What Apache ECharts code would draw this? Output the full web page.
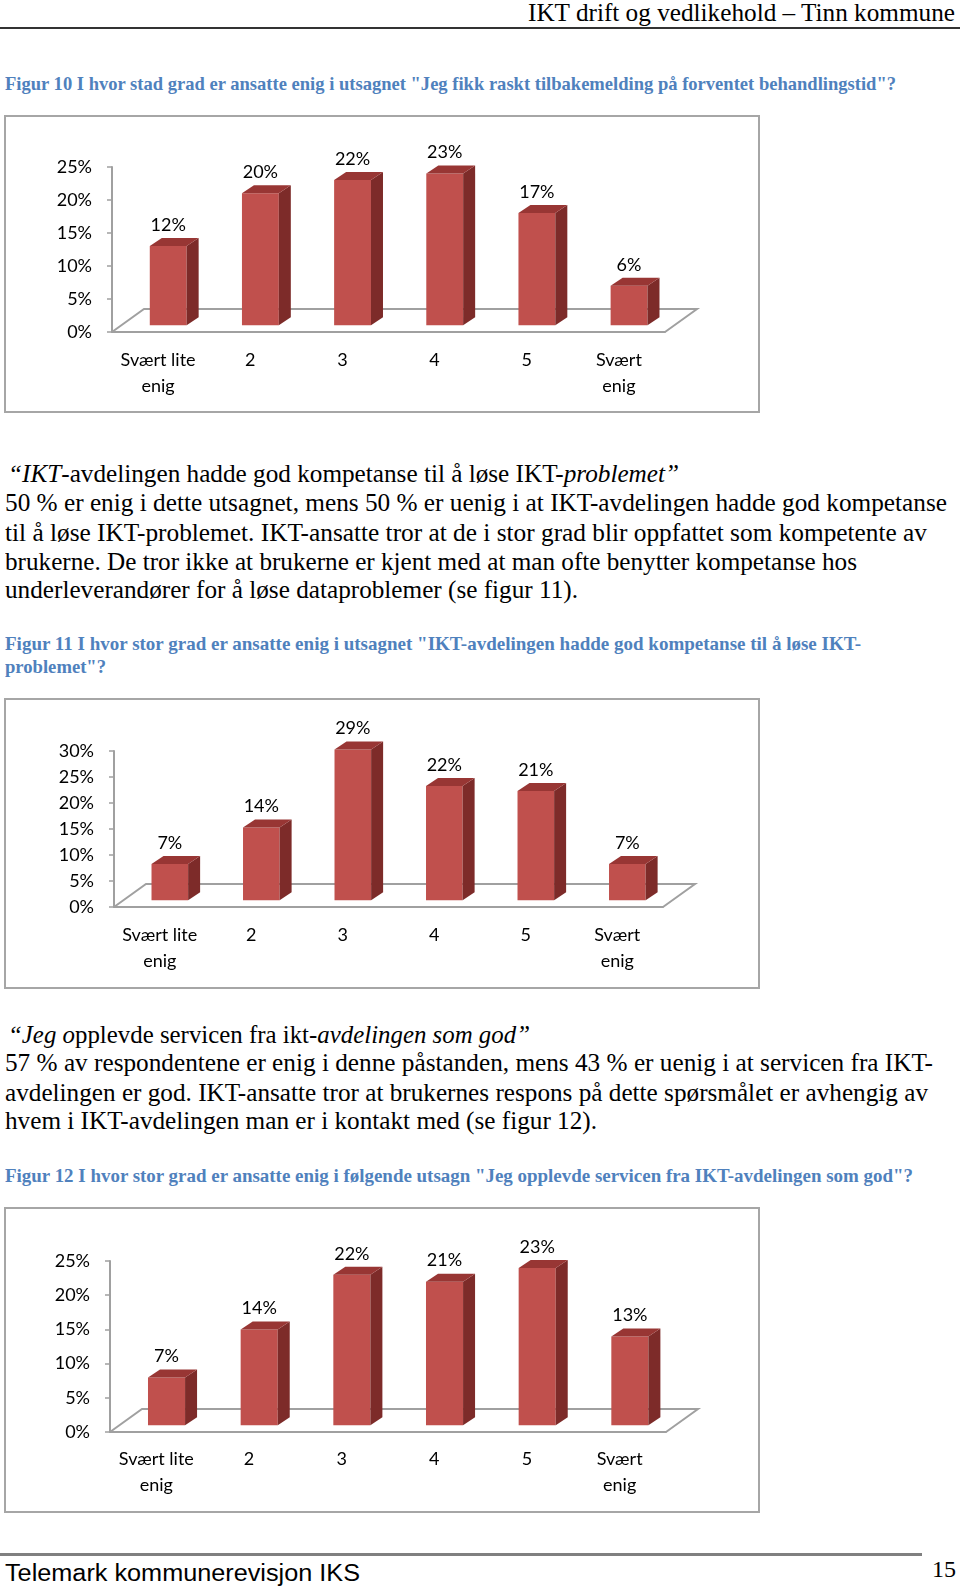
<!DOCTYPE html>
<html>
<head>
<meta charset="utf-8">
<script src="https://cdn.jsdelivr.net/npm/echarts@6/dist/echarts.min.js"></script>
<style>
  html, body { margin: 0; padding: 0; background: #fff; }
  body { width: 960px; height: 1588px; position: relative; overflow: hidden; font-family: "Liberation Serif", serif; color: #000; }
  .ln { position: absolute; white-space: nowrap; transform-origin: 0 50%; line-height: 30px; height: 30px; }
  .body { font-size: 25px; }
  .cap { font-size: 19.5px; font-weight: bold; color: #4f81bd; }
  .chart { position: absolute; left: 4px; width: 756px; }
  .rule { position: absolute; left: 0; }
</style>
</head>
<body>
  <div class="ln" style="left:528px;top:-2px;font-size:25px" data-w="427">IKT drift og vedlikehold – Tinn kommune</div>
  <div class="rule" style="top:27px;width:960px;height:2px;background:#333"></div>

  <div class="ln cap" style="left:5px;top:69px" data-w="891">Figur 10 I hvor stad grad er ansatte enig i utsagnet "Jeg fikk raskt tilbakemelding på forventet behandlingstid"?</div>
  <div class="chart" id="fig10" style="top:115px;height:298px"></div>

  <div class="ln body" style="left:8px;top:459px" data-w="671"><i>“IKT</i>-avdelingen hadde god kompetanse til å løse IKT-<i>problemet”</i></div>
  <div class="ln body" style="left:5px;top:488px" data-w="942">50 % er enig i dette utsagnet, mens 50 % er uenig i at IKT-avdelingen hadde god kompetanse</div>
  <div class="ln body" style="left:5px;top:518px" data-w="922">til å løse IKT-problemet. IKT-ansatte tror at de i stor grad blir oppfattet som kompetente av</div>
  <div class="ln body" style="left:5px;top:547px" data-w="852">brukerne. De tror ikke at brukerne er kjent med at man ofte benytter kompetanse hos</div>
  <div class="ln body" style="left:5px;top:575px" data-w="573">underleverandører for å løse dataproblemer (se figur 11).</div>

  <div class="ln cap" style="left:5px;top:629px" data-w="856">Figur 11 I hvor stor grad er ansatte enig i utsagnet "IKT-avdelingen hadde god kompetanse til å løse IKT-</div>
  <div class="ln cap" style="left:5px;top:652px" data-w="101">problemet"?</div>
  <div class="chart" id="fig11" style="top:698px;height:291px"></div>

  <div class="ln body" style="left:8px;top:1020px" data-w="522"><i>“Jeg o</i>pplevde servicen fra ikt-<i>avdelingen som god”</i></div>
  <div class="ln body" style="left:5px;top:1048px" data-w="928">57 % av respondentene er enig i denne påstanden, mens 43 % er uenig i at servicen fra IKT-</div>
  <div class="ln body" style="left:5px;top:1078px" data-w="923">avdelingen er god. IKT-ansatte tror at brukernes respons på dette spørsmålet er avhengig av</div>
  <div class="ln body" style="left:5px;top:1106px" data-w="592">hvem i IKT-avdelingen man er i kontakt med (se figur 12).</div>

  <div class="ln cap" style="left:5px;top:1161px" data-w="908">Figur 12 I hvor stor grad er ansatte enig i følgende utsagn "Jeg opplevde servicen fra IKT-avdelingen som god"?</div>
  <div class="chart" id="fig12" style="top:1207px;height:306px"></div>

  <div class="rule" style="top:1553px;width:922px;height:3px;background:#808080"></div>
  <div class="ln" style="left:5px;top:1558px;font-family:'Liberation Sans',sans-serif;font-size:23px" data-w="355">Telemark kommunerevisjon IKS</div>
  <div class="ln" style="left:932px;top:1555px;font-size:23px" data-w="24">15</div>

<script>
// data
const categories = ['Svært lite\nenig', '2', '3', '4', '5', 'Svært\nenig'];
const fig10Values = [12, 20, 22, 23, 17, 6];
const fig11Values = [7, 14, 29, 22, 21, 7];
const fig12Values = [7, 14, 22, 21, 23, 13];
const fig10Ticks = [0, 5, 10, 15, 20, 25];
const fig11Ticks = [0, 5, 10, 15, 20, 25, 30];
const fig12Ticks = [0, 5, 10, 15, 20, 25];

// squeeze each text line to the width it has on the page
document.querySelectorAll('[data-w]').forEach(el => {
  const w = el.getBoundingClientRect().width;
  el.style.transform = 'scaleX(' + (el.dataset.w / w) + ')';
});

const FRONT = '#c0504d', TOP = '#983634', SIDE = '#7d2b29', AXIS = '#a0a0a0';
const DEPTH_X = 32, DEPTH_Y = 23;

function renderFloor(params, api) {
  const cs = params.coordSys;
  const yb = cs.y + cs.height;
  return {
    type: 'polyline',
    shape: { points: [[cs.x, yb], [cs.x + DEPTH_X, yb - DEPTH_Y], [cs.x + cs.width + DEPTH_X, yb - DEPTH_Y], [cs.x + cs.width, yb]] },
    style: { fill: null, stroke: AXIS, lineWidth: 2 }
  };
}

function renderBar(params, api) {
  const v = api.value(1);
  const base = api.coord([api.value(0), 0]);
  const top = api.coord([api.value(0), v]);
  const band = api.size([1, 0])[0];
  const h = base[1] - top[1];
  const w = band * 0.40;
  const x0 = base[0] + band * 0.11 - w / 2;
  const y0 = base[1] - 6.7;
  const yt = y0 - h;
  const dx = 12, dy = 8;
  return {
    type: 'group',
    children: [
      { type: 'rect', shape: { x: x0, y: yt, width: w, height: h }, style: { fill: FRONT } },
      { type: 'polygon', shape: { points: [[x0 + w, y0], [x0 + w, yt], [x0 + w + dx, yt - dy], [x0 + w + dx, y0 - dy]] }, style: { fill: SIDE } },
      { type: 'polygon', shape: { points: [[x0, yt], [x0 + dx, yt - dy], [x0 + w + dx, yt - dy], [x0 + w, yt]] }, style: { fill: TOP } },
      { type: 'text', style: { text: v + '%', x: x0 + w / 2, y: yt - 21, align: 'center', verticalAlign: 'middle', font: '18px Lato', fill: '#000' } }
    ]
  };
}

function drawChart(id, values, ticks, grid, xMargin) {
  const el = document.getElementById(id);
  const chart = echarts.init(el);
  const H = el.clientHeight;
  chart.setOption({
    animation: false,
    graphic: [{
      type: 'rect', silent: true,
      shape: { x: 1, y: 1, width: 754, height: H - 2 },
      style: { fill: null, stroke: '#a6a6a6', lineWidth: 2 }
    }],
    grid: grid,
    xAxis: {
      type: 'category',
      data: categories,
      axisLine: { lineStyle: { color: AXIS, width: 2 } },
      axisTick: { length: 6, lineStyle: { color: AXIS, width: 2 } },
      axisLabel: { color: '#000', fontFamily: 'Lato', fontSize: 18, lineHeight: 26, margin: xMargin, interval: 0 }
    },
    yAxis: {
      type: 'value',
      min: ticks[0],
      max: ticks[ticks.length - 1],
      interval: ticks[1] - ticks[0],
      splitLine: { show: false },
      axisLine: { show: true, lineStyle: { color: AXIS, width: 2 } },
      axisTick: { show: true, length: 5, lineStyle: { color: AXIS, width: 1.5 } },
      axisLabel: { color: '#000', fontFamily: 'Lato', fontSize: 18, margin: 20, formatter: '{value}%' }
    },
    series: [
      { type: 'custom', renderItem: renderFloor, data: [[0, 0]], z: 1, silent: true },
      { type: 'custom', renderItem: renderBar, data: values.map((v, i) => [i, v]), z: 2 }
    ]
  });
}

drawChart('fig10', fig10Values, fig10Ticks, { left: 108, top: 52, width: 553, height: 165 }, 15);
drawChart('fig11', fig11Values, fig11Ticks, { left: 110, top: 53, width: 549, height: 156 }, 15);
drawChart('fig12', fig12Values, fig12Ticks, { left: 106, top: 54, width: 556, height: 171 }, 14);
</script>
</body>
</html>
